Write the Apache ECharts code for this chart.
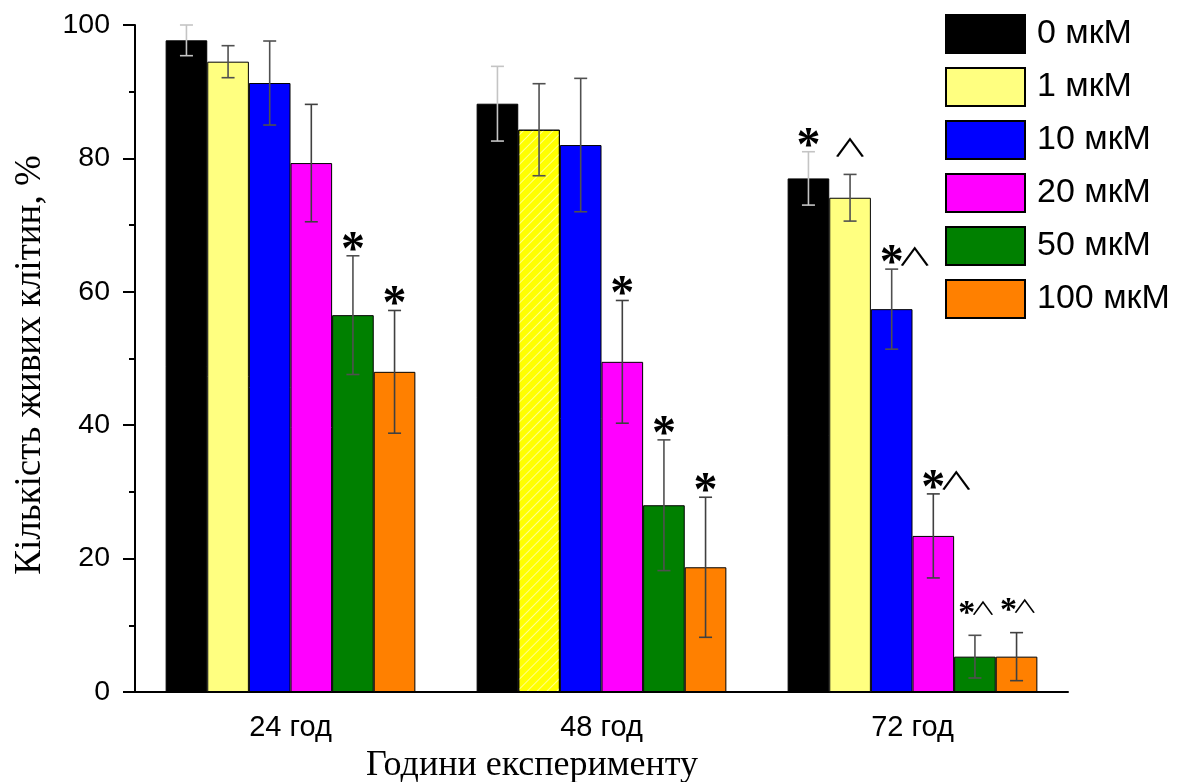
<!DOCTYPE html>
<html>
<head>
<meta charset="utf-8">
<script src="https://cdn.jsdelivr.net/npm/echarts@6/dist/echarts.min.js"></script>
<style>
  html, body { margin: 0; padding: 0; background: #fff; }
  #chart { width: 1184px; height: 782px; }
</style>
</head>
<body>
<div id="chart"></div>
<script>
// Cell viability after exposure, by time point and concentration
const categories = ['24 год', '48 год', '72 год'];
const doseNames = ['0 мкМ', '1 мкМ', '10 мкМ', '20 мкМ', '50 мкМ', '100 мкМ'];

// mean values, %
const mean0   = [97.7, 88.2, 77.0];
const mean1   = [94.5, 84.3, 74.1];
const mean10  = [91.3, 82.0, 57.4];
const mean20  = [79.3, 49.5, 23.4];
const mean50  = [56.5, 28.0, 5.3];
const mean100 = [48.0, 18.7, 5.3];

// error (±), %
const err0   = [2.3, 5.6, 4.0];
const err1   = [2.4, 6.9, 3.5];
const err10  = [6.3, 10.0, 6.0];
const err20  = [8.8, 9.2, 6.3];
const err50  = [8.9, 9.8, 3.2];
const err100 = [9.2, 10.5, 3.6];

// significance marks: * and ∧
const mark0   = ['', '', '*'];
const mark1   = ['', '', '∧'];
const mark10  = ['', '', '*∧'];
const mark20  = ['', '*', '*∧'];
const mark50  = ['*', '*', '*∧'];
const mark100 = ['*', '*', '*∧'];

const yTicks = [0, 20, 40, 60, 80, 100];

const means = [mean0, mean1, mean10, mean20, mean50, mean100];
const errs = [err0, err1, err10, err20, err50, err100];
const marks = [mark0, mark1, mark10, mark20, mark50, mark100];

const fills = ['#000000', '#ffff80', '#0000ff', '#ff00ff', '#008000', '#ff8000'];
const errColors = ['#c4c4c4', '#505050', '#505050', '#404040', '#505050', '#404040'];
const CAT_GAP = 0.197;
const SANS = '"Liberation Sans", Arial, sans-serif';
const SERIF = '"Liberation Serif", "Times New Roman", serif';
const SYMBOL = '"Noto Sans CJK SC", "DejaVu Sans", sans-serif';

// the 1 мкМ bar at 48 год is hatched
const hatched = { series: 1, cat: 1 };
// marks drawn in a compact size
const compact = { '4-2': true, '5-2': true };

const barSeries = doseNames.map((name, si) => ({
  name: name,
  type: 'bar',
  barGap: '0%',
  barCategoryGap: (CAT_GAP * 100) + '%',
  itemStyle: { color: fills[si], borderColor: '#000', borderWidth: 1 },
  data: means[si].map((v, ci) => {
    if (si === hatched.series && ci === hatched.cat) {
      return {
        value: v,
        itemStyle: {
          color: '#ffff00',
          decal: {
            symbol: 'rect',
            dashArrayX: [1, 0],
            dashArrayY: [1, 6],
            rotation: -Math.PI / 4,
            color: 'rgba(255,255,255,0.55)'
          }
        }
      };
    }
    return v;
  })
}));

const errData = [];
const errMarks = [];
for (let si = 0; si < doseNames.length; si++) {
  for (let ci = 0; ci < categories.length; ci++) {
    errData.push([ci, si, means[si][ci], errs[si][ci]]);
    errMarks.push(marks[si][ci]);
  }
}

function renderErr(params, api) {
  const ci = api.value(0);
  const si = api.value(1);
  const mean = api.value(2);
  const err = api.value(3);
  const band = api.size([1, 0])[0];
  const bw = band * (1 - CAT_GAP) / doseNames.length;
  const cx = api.coord([ci, mean])[0] - bw * doseNames.length / 2 + (si + 0.5) * bw;
  const yTop = api.coord([ci, mean + err])[1];
  const yBot = api.coord([ci, mean - err])[1];
  const cap = 6.5;
  const stroke = { stroke: errColors[si], lineWidth: 1.6 };
  const children = [
    { type: 'line', shape: { x1: cx, y1: yTop, x2: cx, y2: yBot }, style: stroke },
    { type: 'line', shape: { x1: cx - cap, y1: yTop, x2: cx + cap, y2: yTop }, style: stroke },
    { type: 'line', shape: { x1: cx - cap, y1: yBot, x2: cx + cap, y2: yBot }, style: stroke }
  ];
  const m = errMarks[params.dataIndex];
  if (m) {
    const small = compact[si + '-' + ci];
    const starSize = small ? 34 : 48;
    const caretSize = small ? 26 : 36;
    const lift = small ? 29 : 15;
    const cy = yTop - lift;
    const hasStar = m.indexOf('*') >= 0;
    const hasCaret = m.indexOf('∧') >= 0;
    const starW = starSize * 0.42;
    const caretW = caretSize * 0.55;
    const gap = small ? 2 : 3;
    let x0;
    if (hasStar && hasCaret) {
      x0 = small ? cx - (starW + caretW + gap) / 2 : cx - starW / 2;
    } else if (hasStar) {
      x0 = cx - starW / 2;
    } else {
      x0 = cx - caretW / 2;
    }
    if (hasStar) {
      children.push({
        type: 'text',
        style: {
          text: '*', x: x0 + starW / 2, y: cy + starSize * 0.22,
          align: 'center', verticalAlign: 'middle',
          font: 'bold ' + starSize + 'px ' + SERIF, fill: '#000'
        }
      });
      x0 += starW + gap;
    }
    if (hasCaret) {
      const ccx = x0 + caretW / 2;
      const ccy = cy + (hasStar ? 2 : -12);
      children.push({
        type: 'text',
        x: ccx, y: ccy,
        scaleY: 0.7,
        style: {
          text: '∧', x: 0, y: 0,
          align: 'center', verticalAlign: 'middle',
          fontFamily: SYMBOL, fontSize: caretSize, fill: '#000'
        }
      });
    }
  }
  return { type: 'group', children: children };
}

const chart = echarts.init(document.getElementById('chart'), null, { renderer: 'canvas' });
chart.setOption({
  animation: false,
  backgroundColor: '#ffffff',
  grid: { left: 135, right: 116, top: 25, bottom: 90, containLabel: false },
  legend: {
    orient: 'vertical',
    left: 945,
    top: 14,
    padding: 0,
    itemWidth: 79,
    itemHeight: 38,
    itemGap: 13,
    icon: 'rect',
    data: doseNames,
    textStyle: { fontFamily: SANS, fontSize: 34, color: '#000', padding: [0, 0, 0, 7] }
  },
  xAxis: [
    {
      type: 'category',
      data: categories,
      position: 'bottom',
      axisLine: { lineStyle: { color: '#000', width: 2 } },
      axisTick: { alignWithLabel: true, length: 12, lineStyle: { color: '#000', width: 2 } },
      axisLabel: { fontFamily: SANS, fontSize: 29, color: '#000', margin: 21 }
    },
    {
      type: 'category',
      data: categories,
      position: 'bottom',
      axisLine: { show: false },
      axisTick: { length: 6, lineStyle: { color: '#000', width: 2 } },
      axisLabel: { show: false }
    }
  ],
  yAxis: {
    type: 'value',
    min: yTicks[0],
    max: yTicks[yTicks.length - 1],
    interval: yTicks[1] - yTicks[0],
    splitLine: { show: false },
    axisLine: { show: true, lineStyle: { color: '#000', width: 2 } },
    axisTick: { show: true, length: 12, lineStyle: { color: '#000', width: 2 } },
    minorTick: { show: true, splitNumber: 2, length: 6, lineStyle: { color: '#000', width: 2 } },
    axisLabel: { fontFamily: SANS, fontSize: 28.5, color: '#000', margin: 25 }
  },
  series: barSeries.concat([{
    type: 'custom',
    name: 'errors',
    xAxisIndex: 0,
    z: 10,
    renderItem: renderErr,
    data: errData,
    silent: true
  }]),
  graphic: [
    {
      type: 'text',
      x: 30, y: 365,
      rotation: Math.PI / 2,
      style: {
        text: 'Кількість живих клітин, %',
        font: '37px ' + SERIF, fill: '#000',
        align: 'center', verticalAlign: 'middle'
      }
    },
    {
      type: 'text',
      x: 532, y: 766,
      style: {
        text: 'Години експерименту',
        font: '36px ' + SERIF, fill: '#000',
        align: 'center', verticalAlign: 'middle'
      }
    }
  ]
});
</script>
</body>
</html>
